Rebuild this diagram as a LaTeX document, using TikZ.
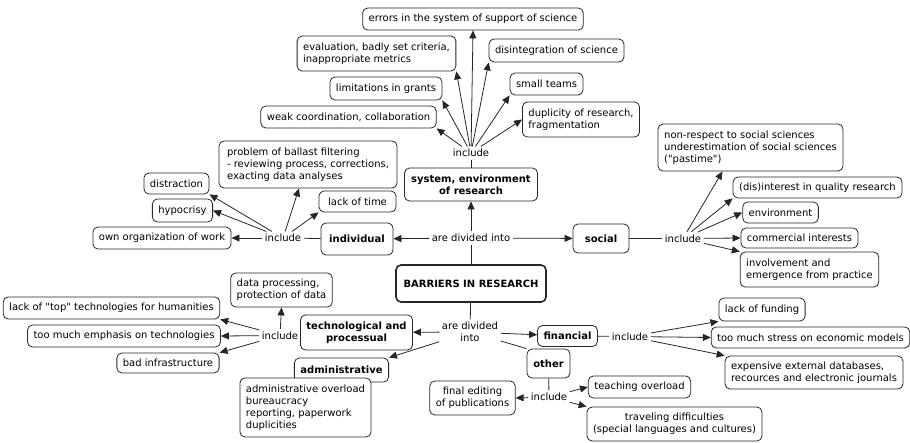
\documentclass[tikz,border=0pt]{standalone}
\usepackage{fontspec}
\setmainfont{DejaVu Sans}[Ligatures=TeXOff]
\usetikzlibrary{arrows.meta}
\tikzset{
  box/.style={draw=black!85, line width=0.8pt, rounded corners=5pt, fill=white,
    inner xsep=6pt, inner ysep=3pt, align=left, font=\fontsize{10}{12}\selectfont},
  cat/.style={box, align=center, font=\fontsize{10}{12}\selectfont\bfseries},
  lbl/.style={inner sep=2.5pt, align=center, font=\fontsize{10}{12}\selectfont},
  lnk/.style={line width=0.8pt, black!85},
  arr/.style={lnk, -{Triangle[length=8pt,width=7pt]}}
}

\begin{document}
\begin{tikzpicture}[x=1pt, y=-1pt]
\useasboundingbox (0,0) rectangle (910,442);

% Central concept and its two link labels.
\node[cat, line width=1.6pt, minimum width=150pt, minimum height=37pt] (barr) at (471,283.5) {BARRIERS IN RESEARCH};
\node[lbl] (topdiv) at (471,238) {are divided into};
\node[lbl] (botdiv) at (470,332) {are divided\\into};

% Categories.
\node[cat, minimum width=133pt, minimum height=33pt] (system) at (471,184.5) {system, environment\\of research};
\node[cat, minimum width=72pt, minimum height=32pt] (indiv) at (357,239) {individual};
\node[cat, minimum width=56pt, minimum height=29pt] (social) at (601,238.5) {social};
\node[cat, minimum width=111pt, minimum height=35pt] (tech) at (356.5,332.5) {technological and\\processual};
\node[cat, minimum width=93pt, minimum height=24pt] (admin) at (341.5,370) {administrative};
\node[cat, minimum width=59pt, minimum height=21pt] (fin) at (567.5,336) {financial};
\node[cat, minimum width=43pt, minimum height=29pt] (other) at (548.5,363.5) {other};

% System, environment of research.
\node[lbl] (sysinc) at (471,153) {include};
\node[box, minimum width=220pt, minimum height=22pt] (errs) at (473,19) {errors in the system of support of science};
\node[box, minimum width=157pt, minimum height=35pt] (evalc) at (376.5,53.5) {evaluation, badly set criteria,\\inappropriate metrics};
\node[box, minimum width=112pt, minimum height=23pt] (grants) at (386,88.5) {limitations in grants};
\node[box, minimum width=173pt, minimum height=22pt] (weak) at (348.5,117) {weak coordination, collaboration};
\node[box, minimum width=133pt, minimum height=23pt] (disint) at (556.5,50.5) {disintegration of science};
\node[box, minimum width=73pt, minimum height=22pt] (teams) at (546.5,84) {small teams};
\node[box, minimum width=116pt, minimum height=35pt] (dupl) at (581,119.5) {duplicity of research,\\fragmentation};

% Individual.
\node[lbl] (indinc) at (283,238) {include};
\node[box, minimum width=178pt, minimum height=47pt] (prob) at (308,164.5) {problem of ballast filtering\\- reviewing process, corrections,\\exacting data analyses};
\node[box, minimum width=65pt, minimum height=21pt] (distr) at (176.5,183.5) {distraction};
\node[box, minimum width=59pt, minimum height=23pt] (hypo) at (182.5,210.5) {hypocrisy};
\node[box, minimum width=77pt, minimum height=21pt] (lacktime) at (357.5,201.5) {lack of time};
\node[box, minimum width=138pt, minimum height=22pt] (ownorg) at (162,238) {own organization of work};
\coordinate (probtip) at ([xshift=-9pt]prob.south);

% Social.
\node[lbl] (socinc) at (683,238.5) {include};
\node[box, minimum width=185pt, minimum height=47pt] (nonresp) at (750.5,147.5) {non-respect to social sciences\\underestimation of social sciences\\("pastime")};
\node[box, minimum width=169pt, minimum height=21pt] (quality) at (817.5,187.5) {(dis)interest in quality research};
\node[box, minimum width=75pt, minimum height=21pt] (envir) at (780.5,212.5) {environment};
\node[box, minimum width=115pt, minimum height=20pt] (comm) at (799.5,238) {commercial interests};
\node[box, minimum width=135pt, minimum height=35pt] (invol) at (809.5,269.5) {involvement and\\emergence from practice};
\coordinate (nonrtip) at ([xshift=-28pt]nonresp.south);

% Technological and processual, administrative.
\node[lbl] (techinc) at (280,335.5) {include};
\node[box, minimum width=101pt, minimum height=34pt] (dataproc) at (281.5,290) {data processing,\\protection of data};
\node[box, minimum width=215pt, minimum height=22pt] (toptech) at (111.5,308) {lack of "top" technologies for humanities};
\node[box, minimum width=190pt, minimum height=22pt] (emph) at (124,336) {too much emphasis on technologies};
\node[box, minimum width=102pt, minimum height=20pt] (infra) at (168,363) {bad infrastructure};
\node[box, minimum width=129pt, minimum height=59pt] (admdet) at (305.5,407.5) {administrative overload\\bureaucracy\\reporting, paperwork\\duplicities};

% Financial.
\node[lbl] (fininc) at (630,336.5) {include};
\node[box, minimum width=86pt, minimum height=23pt] (funding) at (762,309.5) {lack of funding};
\node[box, minimum width=195pt, minimum height=21pt] (stress) at (810.5,337.5) {too much stress on economic models};
\node[box, minimum width=176pt, minimum height=33pt] (expens) at (814,372.5) {expensive external databases,\\recources and electronic journals};

% Other.
\node[lbl] (othinc) at (549,397) {include};
\node[box, align=center, minimum width=85pt, minimum height=34pt] (finaled) at (472.5,398) {final editing\\of publications};
\node[box, minimum width=101pt, minimum height=22pt] (teach) at (639.5,387) {teaching overload};
\node[box, align=center, minimum width=173pt, minimum height=34pt] (travel) at (674.5,424) {traveling difficulties\\(special languages and cultures)};

% Links from the central concept.
\draw[lnk] (barr) -- (topdiv);
\draw[lnk] (barr) -- (botdiv);
\foreach \t in {system, indiv, social}
\draw[arr] (topdiv) -- (\t);
\foreach \t in {tech, admin.north east, fin}
\draw[arr] (botdiv) -- (\t);
\draw[lnk] (botdiv) -- (other.north west);

% Category to include.
\draw[lnk] (system) -- (sysinc);
\draw[lnk] (indiv) -- (indinc);
\draw[lnk] (social) -- (socinc);
\draw[lnk] (tech) -- (techinc);
\draw[lnk] (fin) -- (fininc);
\draw[lnk] (other) -- (othinc);

% Include to the items.
\foreach \t in {errs.south, evalc.south east, grants.south east, weak.south east,
  disint.south west, teams.south west, dupl.west}
\draw[arr] (sysinc) -- (\t);
\foreach \t in {ownorg, hypo.east, distr.south east, probtip, lacktime.south west}
\draw[arr] (indinc) -- (\t);
\foreach \t in {nonrtip, quality.south west, envir.west, comm.west, invol.north west}
\draw[arr] (socinc) -- (\t);
\foreach \t in {dataproc.south, toptech.south east, emph.east, infra.north east}
\draw[arr] (techinc) -- (\t);
\foreach \t in {funding.south west, stress.west, expens.north west}
\draw[arr] (fininc) -- (\t);
\foreach \t in {finaled.east, teach.west, travel.north west}
\draw[arr] (othinc) -- (\t);
\end{tikzpicture}
\end{document}
